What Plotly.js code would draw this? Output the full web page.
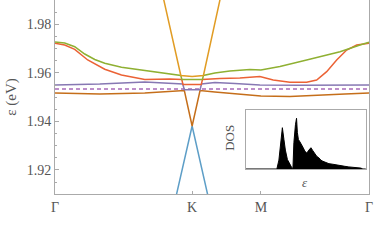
<!DOCTYPE html>
<html>
<head>
<meta charset="utf-8">
<script src="https://cdn.plot.ly/plotly-3.0.1.min.js"></script>
<style>html,body{margin:0;padding:0;background:#fff;}#plot{width:374px;height:241px;}</style>
</head>
<body>
<div id="plot"></div>
<script>
// k-path tick positions and labels
const kTicks = [0, 0.4367, 0.6557, 1.0];
const kLabels = ['Γ', 'K', 'M', 'Γ'];

// bands (k, energy in eV)
const orangeK = [0.3293, 0.4007, 0.4367, 0.4727, 0.5419];
const orangeE = [2.0000, 1.95897, 1.95856, 1.95897, 2.0000];

const greenK = [0, 0.0309, 0.0628, 0.0947, 0.1266, 0.1584, 0.2117, 0.2859, 0.3752, 0.4007, 0.4039, 0.4696, 0.4727, 0.5091, 0.5569, 0.6207, 0.6557, 0.7163, 0.8014, 0.9076, 0.9713, 1.0];
const greenE = [1.97278, 1.97237, 1.97085, 1.96783, 1.96557, 1.96400, 1.96235, 1.96095, 1.95946, 1.95897, 1.95732, 1.95732, 1.95897, 1.96000, 1.96082, 1.96144, 1.96124, 1.96268, 1.96536, 1.96878, 1.97155, 1.97266];

const redK = [0, 0.0309, 0.0628, 0.1042, 0.1584, 0.2117, 0.2859, 0.3656, 0.4039, 0.4074, 0.4660, 0.4696, 0.5250, 0.5888, 0.6525, 0.6949, 0.7481, 0.8014, 0.8333, 0.8652, 0.8970, 0.9289, 0.9608, 1.0];
const redE = [1.97225, 1.97155, 1.96977, 1.96536, 1.96153, 1.95918, 1.95732, 1.95753, 1.95732, 1.95526, 1.95526, 1.95732, 1.95773, 1.95794, 1.95856, 1.95711, 1.95616, 1.95616, 1.95711, 1.96054, 1.96536, 1.96948, 1.97155, 1.97225];

const purpleK = [0, 0.1425, 0.2859, 0.3656, 0.4068, 0.4119, 0.4619, 0.4667, 0.5091, 0.5729, 0.6525, 0.7801, 1.0];
const purpleE = [1.95505, 1.95546, 1.95629, 1.95575, 1.95546, 1.95310, 1.95310, 1.95546, 1.95608, 1.95567, 1.95505, 1.95493, 1.95505];

const dashedK = [0, 1.0];
const dashedE = [1.9534, 1.9534];

const darkK = [0, 0.1425, 0.2859, 0.3656, 0.4119, 0.4367, 0.4619, 0.5091, 0.5888, 0.6557, 0.7481, 0.8438, 0.9235, 1.0];
const darkE = [1.95175, 1.95134, 1.95175, 1.95237, 1.95278, 1.93814, 1.95278, 1.95216, 1.95113, 1.95052, 1.95031, 1.95072, 1.95134, 1.95175];

const blueK = [0.3695, 0.4367, 0.5034];
const blueE = [1.9000, 1.93814, 1.9000];

// inset density of states (normalised energy, DOS)
const dosX = [0, 0.258, 0.275, 0.292, 0.304, 0.317, 0.329, 0.346, 0.367, 0.383, 0.392, 0.400, 0.413, 0.422, 0.429, 0.4375, 0.450, 0.4625, 0.475, 0.492, 0.508, 0.525, 0.542, 0.558, 0.575, 0.592, 0.608, 0.625, 0.642, 0.667, 0.692, 0.725, 0.758, 0.792, 0.825, 0.858, 0.892, 0.925, 0.958, 0.975, 1.0];
const dosY = [0, 0, 0.15, 0.50, 0.70, 0.50, 0.32, 0.16, 0.07, 0.02, 0.01, 0.45, 0.75, 0.86, 0.62, 0.50, 0.46, 0.42, 0.37, 0.30, 0.27, 0.32, 0.36, 0.31, 0.26, 0.21, 0.19, 0.15, 0.13, 0.11, 0.09, 0.08, 0.065, 0.05, 0.045, 0.035, 0.03, 0.02, 0.015, 0, 0];

const lw = 1.5;
function band(x, y, color, dash) {
  return {x: x, y: y, type: 'scatter', mode: 'lines', line: {color: color, width: lw, dash: dash || 'solid'}, hoverinfo: 'skip', showlegend: false, cliponaxis: true};
}
const traces = [
  band(blueK, blueE, '#5D9EC7'),
  band(darkK, darkE, '#C56E1A'),
  band(dashedK, dashedE, '#A86AB8', '4px,3px'),
  band(purpleK, purpleE, '#8778B3'),
  band(redK, redE, '#EB6235'),
  band(greenK, greenE, '#8FB032'),
  band(orangeK, orangeE, '#E19C24'),
  {x: dosX, y: dosY, xaxis: 'x2', yaxis: 'y2', type: 'scatter', mode: 'lines', fill: 'tozeroy', fillcolor: '#000', line: {color: '#000', width: 1}, hoverinfo: 'skip', showlegend: false}
];

const serif = 'Liberation Serif, Times New Roman, serif';
const gray = '#555';
const frame = '#aaaaaa';
const layout = {
  width: 374, height: 241,
  margin: {l: 55, r: 5, t: 0, b: 47},
  paper_bgcolor: '#fff', plot_bgcolor: '#fff',
  showlegend: false,
  xaxis: {
    range: [0, 1], tickvals: kTicks, ticktext: kLabels,
    showgrid: false, zeroline: false, showline: true, mirror: true, linecolor: frame, linewidth: 1,
    ticks: 'inside', ticklen: 3, tickcolor: frame,
    tickfont: {family: serif, size: 14, color: gray}, fixedrange: true
  },
  yaxis: {
    range: [1.9101, 1.9901], tickvals: [1.92, 1.94, 1.96, 1.98], ticktext: ['1.92', '1.94', '1.96', '1.98'],
    showgrid: false, zeroline: false, showline: true, mirror: true, linecolor: frame, linewidth: 1,
    ticks: 'inside', ticklen: 4, tickcolor: frame,
    minor: {tickvals: [1.915, 1.925, 1.93, 1.935, 1.945, 1.95, 1.955, 1.965, 1.97, 1.975, 1.985], ticks: 'inside', ticklen: 2, tickcolor: frame},
    tickfont: {family: serif, size: 14, color: gray},
    title: {text: 'ε (eV)', font: {family: serif, size: 15, color: gray}, standoff: 6},
    fixedrange: true
  },
  xaxis2: {
    domain: [0.608, 0.990], anchor: 'y2', range: [0, 1],
    showgrid: false, zeroline: false, showline: true, mirror: true, linecolor: frame, linewidth: 1,
    showticklabels: false, ticks: ''
  },
  yaxis2: {
    domain: [0.129, 0.433], anchor: 'x2', range: [0, 1.0],
    showgrid: false, zeroline: false, showline: true, mirror: true, linecolor: frame, linewidth: 1,
    showticklabels: false, ticks: ''
  },
  annotations: [
    {text: 'DOS', xref: 'paper', yref: 'paper', x: 0.557, y: 0.289, textangle: -90, showarrow: false, font: {family: serif, size: 13, color: gray}, xanchor: 'center', yanchor: 'middle'},
    {text: '<i>ε</i>', xref: 'paper', yref: 'paper', x: 0.796, y: 0.057, showarrow: false, font: {family: serif, size: 13, color: gray}, xanchor: 'center', yanchor: 'middle'}
  ]
};
Plotly.newPlot('plot', traces, layout, {displayModeBar: false, staticPlot: true});
</script>
</body>
</html>
